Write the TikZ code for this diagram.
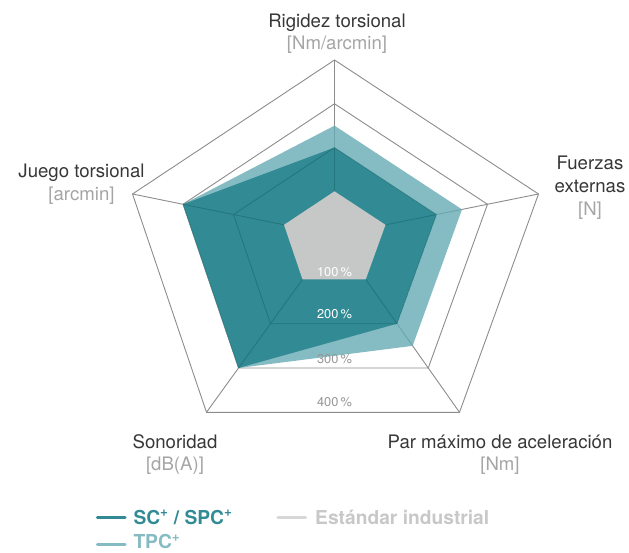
\documentclass[tikz,border=0pt]{standalone}
\usepackage{fontspec}
\setmainfont{TeX Gyre Heros}
\usetikzlibrary{calc}
\definecolor{sccol}{RGB}{50,139,148}
\definecolor{tpccol}{RGB}{133,187,194}
\definecolor{stdcol}{RGB}{198,199,199}
\definecolor{gridcol}{RGB}{140,140,140}
\definecolor{gridsc}{RGB}{36,118,126}
\definecolor{gridtpc}{RGB}{108,164,171}
\definecolor{namecol}{RGB}{55,55,55}
\definecolor{unitcol}{RGB}{165,165,165}
\definecolor{pctcol}{RGB}{150,150,150}
\definecolor{stdtext}{RGB}{200,200,200}
\definecolor{stdline}{RGB}{215,215,215}
\tikzset{
  gridline/.style={draw=gridcol, line width=0.9pt, line join=miter},
  axname/.style={anchor=base, text=namecol, font=\fontsize{18.6}{22}\selectfont},
  axunit/.style={anchor=base, text=unitcol, font=\fontsize{18.6}{22}\selectfont},
  pct/.style={anchor=base, font=\fontsize{12.8}{14}\selectfont},
  legline/.style={line width=3.3pt, line cap=round},
  legtext/.style={anchor=base west, font=\fontsize{19.2}{22}\selectfont\bfseries},
}
\newcommand\drawgridlines[1]{%
  \foreach \k in {2,3,4} {\draw[#1] (L1-\k) -- (L2-\k) -- (L3-\k) -- (L4-\k) -- (L5-\k) -- cycle;}
  \foreach \i in {1,...,5} {\draw[#1] (P) -- (V\i);}
}
\begin{document}
\begin{tikzpicture}[x=1pt,y=-1pt]
\useasboundingbox (0,0) rectangle (629,553);
\coordinate (P) at (334.5,235.1);
\coordinate (V1) at (334.5,60);
\coordinate (V2) at (538.5,194);
\coordinate (V3) at (459.5,412.3);
\coordinate (V4) at (206.5,412.3);
\coordinate (V5) at (132.5,194);
\foreach \i in {1,...,5} {\foreach \k in {1,2,3,4} {\coordinate (L\i-\k) at ($(P)!\k/4!(V\i)$);}}
% data
\coordinate (S1) at ($(P)!2/4!(V1)$);
\coordinate (S2) at ($(P)!2/4!(V2)$);
\coordinate (S3) at ($(P)!2/4!(V3)$);
\coordinate (S4) at ($(P)!3/4!(V4)$);
\coordinate (S5) at ($(P)!3/4!(V5)$);
\coordinate (T1) at ($(P)!2.5/4!(V1)$);
\coordinate (T2) at ($(P)!2.5/4!(V2)$);
\coordinate (T3) at ($(P)!2.5/4!(V3)$);
\fill[tpccol] (T1) -- (T2) -- (T3) -- (S4) -- (S5) -- cycle;
\fill[sccol] (S1) -- (S2) -- (S3) -- (S4) -- (S5) -- cycle;
\begin{scope}[even odd rule]
  \clip (0,0) rectangle (629,553) (T1) -- (T2) -- (T3) -- (S4) -- (S5) -- cycle;
  \drawgridlines{gridline}
\end{scope}
\begin{scope}[even odd rule]
  \clip (T1) -- (T2) -- (T3) -- (S4) -- (S5) -- cycle (S1) -- (S2) -- (S3) -- (S4) -- (S5) -- cycle;
  \drawgridlines{gridline, draw=gridtpc}
\end{scope}
\begin{scope}
  \clip (S1) -- (S2) -- (S3) -- (S4) -- (S5) -- cycle;
  \drawgridlines{gridline, draw=gridsc}
\end{scope}
\fill[stdcol] (L1-1) -- (L2-1) -- (L3-1) -- (L4-1) -- (L5-1) -- cycle;
% percentage labels
\node[pct, text=white] (p1) at (334.5,276.8) {100\,\%};
\node[pct, text=white] (p2) at (334.5,318.8) {200\,\%};
\node[pct, text=pctcol] (p3) at (334.5,363.8) {300\,\%};
\node[pct, text=pctcol] (p4) at (334.5,406.8) {400\,\%};
% axis labels
\node[axname] (n1) at (337,27.3) {Rigidez torsional};
\node[axunit] (u1) at (337,50) {[Nm/arcmin]};
\node[axname] (n2a) at (590,170) {Fuerzas};
\node[axname] (n2b) at (590,192.7) {externas};
\node[axunit] (u2) at (590,215.4) {[N]};
\node[axname] (n3) at (500,448) {Par máximo de aceleración};
\node[axunit] (u3) at (500,470.7) {[Nm]};
\node[axname] (n4) at (175,448) {Sonoridad};
\node[axunit] (u4) at (175,470.7) {[dB(A)]};
\node[axname] (n5) at (81.5,177.5) {Juego torsional};
\node[axunit] (u5) at (81.5,200.2) {[arcmin]};
% legend
\coordinate (la1) at (97.5,517.7); \coordinate (la2) at (125,517.7);
\coordinate (lb1) at (97.5,544.3); \coordinate (lb2) at (125,544.3);
\coordinate (lc1) at (278,517.7); \coordinate (lc2) at (305.5,517.7);
\draw[legline, sccol] (la1) -- (la2);
\draw[legline, tpccol] (lb1) -- (lb2);
\draw[legline, stdline] (lc1) -- (lc2);
\node[legtext, text=sccol, inner sep=0pt] (ta) at (133.3,524.3) {SC\textsuperscript{+} / SPC\textsuperscript{+}};
\node[legtext, text=tpccol, inner sep=0pt] (tb) at (133.3,548.8) {TPC\textsuperscript{+}};
\node[legtext, text=stdtext, inner sep=0pt] (tc) at (315,524.3) {Estándar industrial};
\end{tikzpicture}
\end{document}
